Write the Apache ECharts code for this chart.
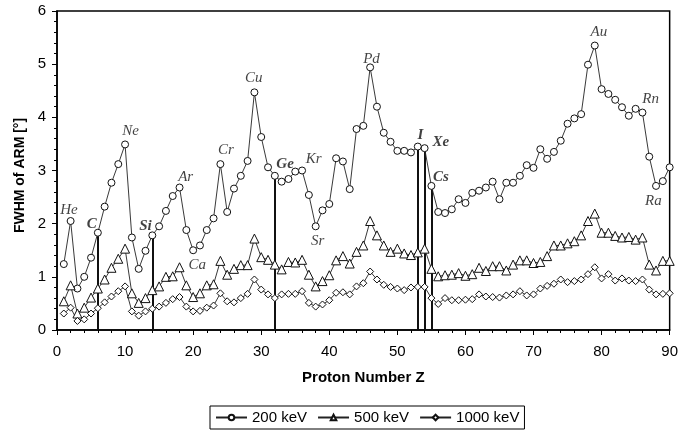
<!DOCTYPE html>
<html>
<head>
<meta charset="utf-8">
<script src="https://cdn.jsdelivr.net/npm/echarts@6/dist/echarts.min.js"></script>
<style>html,body{margin:0;padding:0;background:#fff}#c{width:681px;height:432px}</style>
</head>
<body>
<div id="c"></div>
<script>
// Proton number Z = 1..90
const protonZ = Array.from({length: 90}, (_, i) => i + 1);

const fwhm200 = [1.24,2.05,0.78,1.00,1.36,1.83,2.32,2.77,3.12,3.49,
  1.74,1.15,1.49,1.78,1.95,2.24,2.52,2.68,1.88,1.50,
  1.59,1.88,2.10,3.12,2.22,2.66,2.90,3.18,4.47,3.63,
  3.06,2.90,2.79,2.84,2.98,3.00,2.54,1.95,2.25,2.37,
  3.23,3.17,2.65,3.78,3.84,4.94,4.20,3.71,3.54,3.37,
  3.37,3.34,3.45,3.42,2.71,2.22,2.20,2.27,2.46,2.39,
  2.58,2.62,2.68,2.79,2.46,2.77,2.77,2.90,3.10,3.05,
  3.40,3.22,3.35,3.56,3.88,3.98,4.06,4.99,5.35,4.53,
  4.44,4.33,4.19,4.03,4.16,4.09,3.26,2.71,2.80,3.06];

const fwhm500 = [0.54,0.84,0.31,0.42,0.61,0.78,0.95,1.17,1.34,1.53,
  0.69,0.51,0.60,0.75,0.82,1.00,1.01,1.18,0.84,0.62,
  0.69,0.84,0.86,1.30,1.04,1.15,1.22,1.22,1.72,1.37,
  1.32,1.23,1.14,1.28,1.27,1.32,1.04,0.82,0.92,1.03,
  1.31,1.39,1.25,1.47,1.59,2.05,1.78,1.59,1.47,1.53,
  1.44,1.41,1.46,1.53,1.15,1.01,1.03,1.04,1.07,1.02,
  1.05,1.17,1.11,1.20,1.20,1.12,1.23,1.31,1.31,1.26,
  1.28,1.39,1.59,1.59,1.63,1.67,1.78,2.05,2.19,1.83,
  1.83,1.77,1.74,1.75,1.70,1.74,1.23,1.12,1.30,1.30];

const fwhm1000 = [0.31,0.42,0.17,0.20,0.31,0.41,0.52,0.63,0.73,0.82,
  0.35,0.27,0.35,0.40,0.44,0.51,0.58,0.62,0.44,0.35,
  0.36,0.42,0.46,0.69,0.54,0.52,0.60,0.68,0.95,0.76,
  0.67,0.60,0.67,0.68,0.68,0.73,0.51,0.44,0.48,0.56,
  0.70,0.71,0.67,0.82,0.88,1.10,0.95,0.85,0.81,0.78,
  0.75,0.80,0.81,0.81,0.60,0.49,0.60,0.56,0.56,0.57,
  0.58,0.67,0.63,0.62,0.61,0.65,0.67,0.73,0.65,0.67,
  0.78,0.83,0.87,0.95,0.90,0.92,0.95,1.05,1.18,0.97,
  1.05,0.93,0.97,0.93,0.92,0.95,0.76,0.67,0.68,0.69];

const seriesNames = ['200 keV', '500 keV', '1000 keV'];
const xTicks = [0, 90, 10];
const yTicks = [0, 6, 1];

// Elements marked with a vertical line (Z)
const markedZ = [6, 14, 32, 53, 54, 55];

// Element labels: name, Z position, y position, bold
const elemNames = ['He','C','Ne','Si','Ar','Ca','Cr','Cu','Ge','Kr','Sr','Pd','I','Xe','Cs','Au','Rn','Ra'];
const elemX =     [1.75,5.1,10.8,13.0,18.9,20.6,24.8,28.9,33.5,37.7,38.3,46.2,53.4,56.4,56.4,79.6,87.2,87.6];
const elemY =     [2.25,1.99,3.75,1.95,2.88,1.22,3.38,4.73,3.12,3.22,1.68,5.10,3.67,3.54,2.87,5.61,4.34,2.43];
const elemBold =  [0,1,0,1,0,0,0,0,1,0,0,0,1,1,1,0,0,0];

const toPairs = arr => protonZ.map((z, i) => [z, arr[i]]);

const chart = echarts.init(document.getElementById('c'));
const baseFont = 'Liberation Sans, Arial, sans-serif';
const lineStyle = {color: '#222', width: 0.9};
const itemStyle = {color: '#fff', borderColor: '#111', borderWidth: 1};

chart.setOption({
  animation: false,
  backgroundColor: '#fff',
  textStyle: {fontFamily: baseFont},
  grid: {left: 57, right: 8, top: 11, bottom: 102, show: true, borderColor: '#000', borderWidth: 1.5, backgroundColor: 'transparent'},
  legend: {
    data: seriesNames,
    bottom: 3,
    left: 210,
    itemWidth: 31,
    itemHeight: 7,
    itemGap: 10,
    borderColor: '#000',
    borderWidth: 1,
    padding: [4, 5, 4, 5],
    textStyle: {fontFamily: baseFont, fontSize: 15, color: '#000'}
  },
  xAxis: {
    type: 'value', min: xTicks[0], max: xTicks[1], interval: xTicks[2],
    name: 'Proton Number Z', nameLocation: 'middle', nameGap: 40,
    nameTextStyle: {fontFamily: baseFont, fontSize: 15, fontWeight: 'bold', color: '#000'},
    axisLine: {lineStyle: {color: '#000', width: 1.5}},
    axisTick: {length: 5, lineStyle: {color: '#000'}},
    minorTick: {show: true, splitNumber: 5, length: 3, lineStyle: {color: '#000'}},
    splitLine: {show: false},
    axisLabel: {fontSize: 15, color: '#000', margin: 14}
  },
  yAxis: {
    type: 'value', min: yTicks[0], max: yTicks[1], interval: yTicks[2],
    name: 'FWHM of ARM [°]', nameLocation: 'middle', nameGap: 28, nameRotate: 90,
    nameTextStyle: {fontFamily: baseFont, fontSize: 14, fontWeight: 'bold', color: '#000', padding: [0, 10, 0, 0]},
    axisLine: {show: true, lineStyle: {color: '#000', width: 1.5}},
    axisTick: {show: true, length: 5, lineStyle: {color: '#000'}},
    minorTick: {show: true, splitNumber: 5, length: 3, lineStyle: {color: '#000'}},
    splitLine: {show: false},
    axisLabel: {fontSize: 15, color: '#000', margin: 11}
  },
  series: [
    {
      name: seriesNames[0], type: 'line', data: toPairs(fwhm200),
      symbol: 'circle', symbolSize: 7, showAllSymbol: true, z: 5,
      lineStyle, itemStyle,
      markLine: {
        silent: true, symbol: 'none', label: {show: false},
        lineStyle: {color: '#111', width: 2, type: 'solid'},
        data: markedZ.map(z => [{coord: [z, 0]}, {coord: [z, fwhm200[z - 1]]}])
      }
    },
    {
      name: seriesNames[1], type: 'line', data: toPairs(fwhm500),
      symbol: 'triangle', symbolSize: 9, showAllSymbol: true, z: 5,
      lineStyle, itemStyle
    },
    {
      name: seriesNames[2], type: 'line', data: toPairs(fwhm1000),
      symbol: 'diamond', symbolSize: 7, showAllSymbol: true, z: 5,
      lineStyle, itemStyle
    },
    {
      name: 'labels', type: 'scatter', silent: true, symbolSize: 0, z: 10,
      data: elemNames.map((n, i) => ({
        name: n, value: [elemX[i], elemY[i]],
        label: {fontWeight: elemBold[i] ? 'bold' : 'normal'}
      })),
      label: {
        show: true, position: 'inside', formatter: p => p.name,
        fontFamily: 'Liberation Serif, Times New Roman, serif', fontStyle: 'italic',
        fontSize: 15, color: '#111'
      }
    }
  ]
});
</script>
</body>
</html>
